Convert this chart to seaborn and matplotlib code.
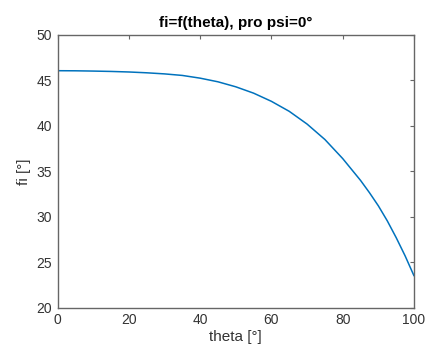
import matplotlib
matplotlib.use("Agg")
import matplotlib.pyplot as plt
import seaborn as sns
import pandas as pd

# fi as a function of theta for psi = 0°
theta = [0, 5, 10, 15, 20, 25, 30, 35, 40, 45, 50, 55, 60, 65, 70, 75,
         80, 85, 87.5, 90, 92.5, 95, 97.5, 100]
fi = [46.07, 46.06, 46.03, 45.99, 45.93, 45.84, 45.72, 45.55, 45.25, 44.85,
      44.3, 43.6, 42.7, 41.6, 40.2, 38.5, 36.4, 34.0, 32.65, 31.2, 29.55,
      27.7, 25.7, 23.5]

x_ticks = [0, 20, 40, 60, 80, 100]
y_ticks = [20, 25, 30, 35, 40, 45, 50]

df = pd.DataFrame({"theta": theta, "fi": fi})

sns.set_style("white")
plt.rcParams["font.family"] = ["Liberation Sans", "DejaVu Sans"]

fig = plt.figure(figsize=(4.27, 3.52), dpi=100)
ax = fig.add_axes([0.1347, 0.126, 0.8349, 0.7746])

sns.lineplot(data=df, x="theta", y="fi", ax=ax, color="#0072BD", linewidth=1.1)

ax.set_xlim(0, 100)
ax.set_ylim(20, 50)
ax.set_xticks(x_ticks)
ax.set_yticks(y_ticks)

text_color = "#333333"
edge_color = "#666666"
for s in ax.spines.values():
    s.set_visible(True)
    s.set_color(edge_color)
    s.set_linewidth(1.0)

ax.tick_params(direction="in", length=3, width=0.8, color=edge_color,
               top=True, right=True, labelsize=10, labelcolor=text_color, pad=4)

ax.set_xlabel("theta [°]", fontsize=11, color=text_color, labelpad=2)
ax.set_ylabel("fi [°]", fontsize=11, color=text_color, labelpad=4)
ax.set_title("fi=f(theta), pro psi=0°", fontsize=11, fontweight="bold", color="black", pad=6)

fig.savefig("out.png", dpi=100)
